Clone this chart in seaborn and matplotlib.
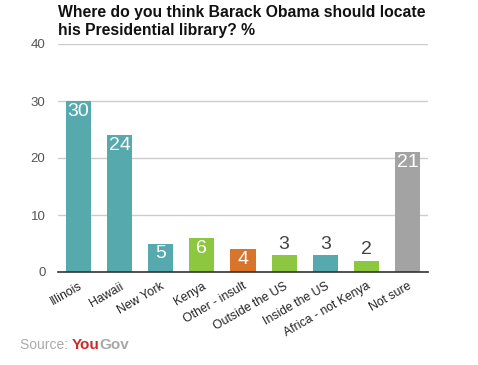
import matplotlib
matplotlib.use("Agg")
import matplotlib.pyplot as plt
import seaborn as sns
import pandas as pd

categories = ["Illinois", "Hawaii", "New York", "Kenya", "Other - insult",
              "Outside the US", "Inside the US", "Africa - not Kenya", "Not sure"]
values = [30, 24, 5, 6, 4, 3, 3, 2, 21]
colors = ["#56a9ad", "#56a9ad", "#56a9ad", "#8dc63f", "#d9742b",
          "#8dc63f", "#56a9ad", "#8dc63f", "#a3a3a3"]
yticks = [0, 10, 20, 30, 40]

sns.set_style("white")
plt.rcParams['font.family'] = ['Liberation Sans', 'DejaVu Sans']

df = pd.DataFrame({"cat": categories, "val": values})

fig = plt.figure(figsize=(4.78, 3.65), dpi=100)
ax = fig.add_axes([58/478, 1-272/365, 370/478, 228/365])
sns.barplot(data=df, x="cat", y="val", hue="cat", palette=dict(zip(categories, colors)),
            width=0.61, legend=False, ax=ax, saturation=1, zorder=3, linewidth=0)

ax.set_xlim(-0.5, len(categories) - 0.5)
ax.set_ylim(0, 40)
ax.set_yticks(yticks)
ax.set_yticklabels([str(t) for t in yticks], color="#555555", fontsize=9.5)
ax.tick_params(axis="y", length=0, pad=9)
ax.tick_params(axis="x", length=0, pad=6)
ax.set_xticks(range(len(categories)))
ax.set_xticklabels(categories, rotation=30, ha="right", rotation_mode="anchor",
                   fontsize=8.8, color="#222222")
ax.set_xlabel("")
ax.set_ylabel("")
ax.grid(axis="y", color="#cccccc", linewidth=1, zorder=0)
for s in ["top", "right", "left"]:
    ax.spines[s].set_visible(False)
ax.spines["bottom"].set_color("#333333")
ax.spines["bottom"].set_linewidth(1.2)
ax.spines["bottom"].set_zorder(4)

for i, v in enumerate(values):
    if v >= 4:
        ax.text(i, v - 0.3, str(v), ha="center", va="top", color="white", fontsize=14)
    else:
        ax.text(i, v + 0.4, str(v), ha="center", va="bottom", color="#444444", fontsize=14)

fig.text(58/478, 1-5/365, "Where do you think Barack Obama should locate\nhis Presidential library? %",
         ha="left", va="top", fontsize=11.3, fontweight="bold", color="#111111", linespacing=1.25)

t1 = fig.text(20/478, 1-345/365, "Source: ", ha="left", va="center", fontsize=10, color="#aaaaaa")
fig.canvas.draw()
bb = t1.get_window_extent()
t2 = fig.text(bb.x1/478, 1-345/365, "You", ha="left", va="center", fontsize=11,
              fontweight="bold", color="#cc2a2a")
fig.canvas.draw()
bb2 = t2.get_window_extent()
fig.text(bb2.x1/478, 1-345/365, "Gov", ha="left", va="center", fontsize=11,
         fontweight="bold", color="#a8a8a8")

fig.savefig("out.png", dpi=100)
